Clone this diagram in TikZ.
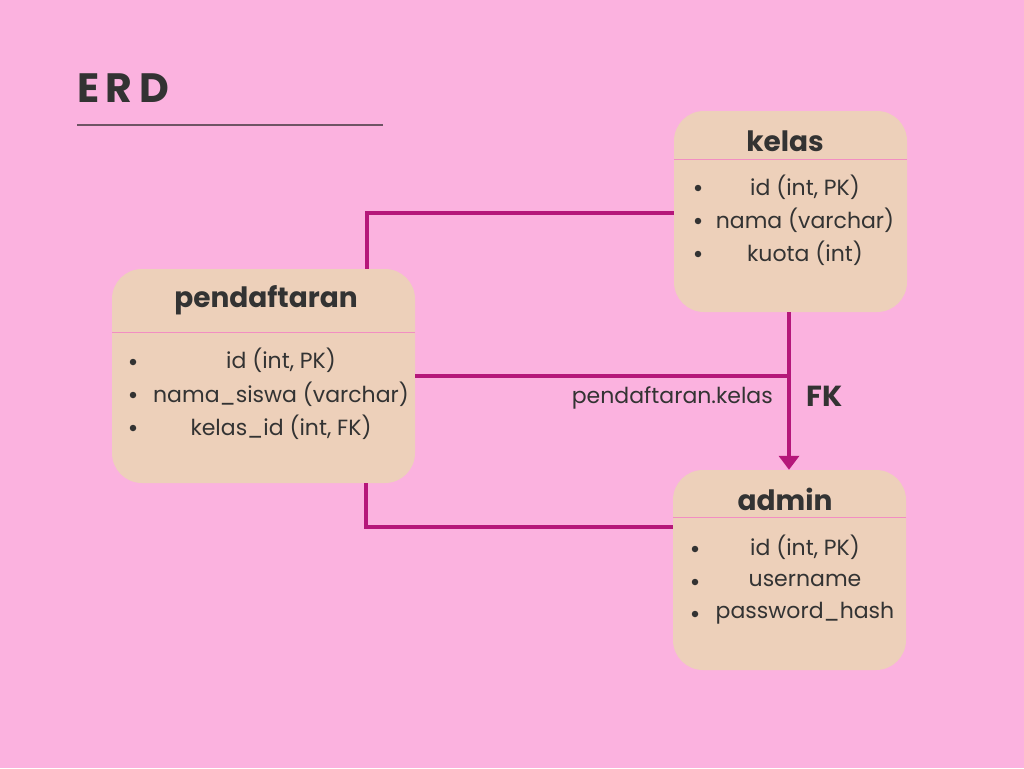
\documentclass[tikz,border=0pt]{standalone}
\usepackage{fontspec}
\setmainfont{Poppins}
\newfontfamily\titlefont[LetterSpace=16]{Poppins}
\usetikzlibrary{arrows.meta}
\definecolor{bg}{HTML}{FBB2DF}
\definecolor{boxfill}{HTML}{EDD0BA}
\definecolor{sepcol}{HTML}{F28EC2}
\definecolor{txt}{HTML}{333333}
\definecolor{conncol}{HTML}{B5177A}
\definecolor{rulecol}{HTML}{6E5464}
\tikzset{
  tbl/.style={fill=boxfill, draw=none, rounded corners=30pt, inner sep=0pt},
  sepline/.style={draw=sepcol, line width=1pt},
  hdr/.style={text=txt, font=\fontsize{28}{32}\selectfont\bfseries, inner sep=0pt},
  item/.style={text=txt, font=\fontsize{22}{26}\selectfont, inner sep=0pt},
  bul/.style={circle, fill=txt, draw=none, inner sep=0pt, minimum size=6.5pt},
  conn/.style={draw=conncol, line width=4pt},
  lbl/.style={text=txt, font=\fontsize{22}{26}\selectfont, inner sep=0pt},
}
\begin{document}
\begin{tikzpicture}[x=1pt,y=-1pt]
\fill[bg] (0,0) rectangle (1024,768);
\useasboundingbox (0,0) rectangle (1024,768);

% title
\node[text=txt, font=\titlefont\fontsize{41}{45}\selectfont\bfseries, anchor=west, inner sep=0pt] (title) at (77,88) {ERD};
\draw[rulecol, line width=2pt] (77,125) -- (383,125);

% boxes
\node[tbl, minimum width=233pt, minimum height=201pt] (kelas) at (790.5,211.5) {};
\node[tbl, minimum width=303pt, minimum height=214pt] (pend) at (263.5,376) {};
\node[tbl, minimum width=233pt, minimum height=200pt] (admin) at (789.5,570) {};

\draw[sepline] (674,159) -- (907,159);
\draw[sepline] (112,332) -- (415,332);
\draw[sepline] (673,517) -- (906,517);

% kelas
\node[hdr] (kelasT) at (785,141) {kelas};
\node[bul] (kb1) at (698,188) {};
\node[bul] (kb2) at (698,221) {};
\node[bul] (kb3) at (698,254) {};
\node[item] (k1) at (805,187) {id (int, PK)};
\node[item] (k2) at (805,220) {nama (varchar)};
\node[item] (k3) at (805,253) {kuota (int)};

% pendaftaran
\node[hdr] (pendT) at (266,300) {pendaftaran};
\node[bul] (pb1) at (133,362) {};
\node[bul] (pb2) at (133,395) {};
\node[bul] (pb3) at (133,428) {};
\node[item] (p1) at (281,360) {id (int, PK)};
\node[item] (p2) at (281,394) {nama\_siswa (varchar)};
\node[item] (p3) at (281,427) {kelas\_id (int, FK)};

% admin
\node[hdr] (adminT) at (785,499) {admin};
\node[bul] (ab1) at (695,549) {};
\node[bul] (ab2) at (695,582) {};
\node[bul] (ab3) at (695,614) {};
\node[item] (a1) at (805,547) {id (int, PK)};
\node[item] (a2) at (805,580) {username};
\node[item] (a3) at (805,613) {password\_hash};

% connectors
\coordinate (c1) at (367,213);
\draw[conn] (c1 |- pend.north) -- (c1) -- (c1 -| kelas.west);
\coordinate (fkx) at (789,0);
\draw[conn] (pend.east) -- ([xshift=2pt]pend.east -| fkx);
\draw[conn, -{Triangle[width=20pt,length=14pt]}] (fkx |- kelas.south) -- (fkx |- admin.north);
\coordinate (c3) at (366,527);
\draw[conn] (c3 |- pend.south) -- (c3) -- (c3 -| admin.west);

% labels
\node[lbl, anchor=east] (fklbl) at (773,398) {pendaftaran.kelas};
\node[text=txt, font=\fontsize{29}{33}\selectfont\bfseries, inner sep=0pt, anchor=west] (fk) at (806,396) {FK};
\end{tikzpicture}
\end{document}
